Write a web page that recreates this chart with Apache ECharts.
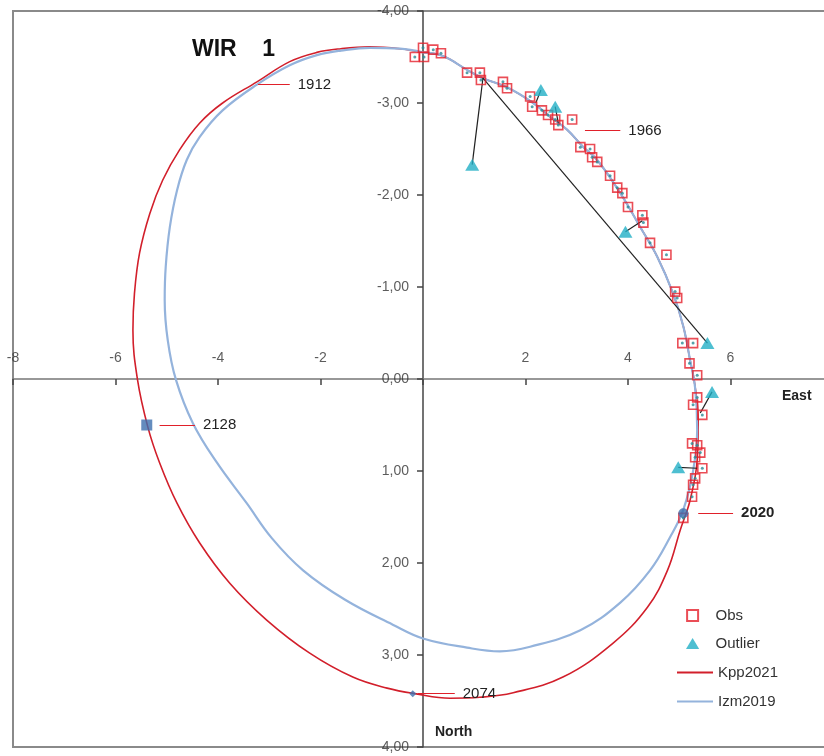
<!DOCTYPE html>
<html>
<head>
<meta charset="utf-8">
<script src="https://cdn.jsdelivr.net/npm/echarts@6/dist/echarts.min.js"></script>
<style>
  html, body { margin: 0; padding: 0; background: #fff; }
  #chart { width: 824px; height: 756px; }
</style>
</head>
<body>
<div id="chart"></div>
<script>
// observed positions (East, North)
const obs = [
  [0.00, -3.60], [0.20, -3.58], [0.35, -3.54], [-0.16, -3.50], [0.02, -3.50],
  [0.86, -3.33], [1.11, -3.33], [1.13, -3.25], [1.56, -3.23], [1.64, -3.16],
  [2.09, -3.07], [2.13, -2.96], [2.32, -2.92], [2.44, -2.87], [2.58, -2.82],
  [2.64, -2.76], [2.91, -2.82], [3.07, -2.52], [3.26, -2.50], [3.30, -2.41],
  [3.40, -2.36], [3.65, -2.21], [3.79, -2.08], [3.89, -2.02], [4.00, -1.87],
  [4.28, -1.78], [4.30, -1.70], [4.43, -1.48], [4.75, -1.35], [4.92, -0.95],
  [4.96, -0.88], [5.06, -0.39], [5.27, -0.39], [5.20, -0.17], [5.35, -0.04],
  [5.35, 0.20], [5.27, 0.28], [5.45, 0.39], [5.25, 0.70], [5.35, 0.72],
  [5.41, 0.80], [5.31, 0.85], [5.45, 0.97], [5.31, 1.08], [5.27, 1.15],
  [5.25, 1.28], [5.08, 1.51]
];
const outliers = [
  [0.96, -2.33], [2.30, -3.14], [2.58, -2.96], [3.95, -1.60],
  [5.55, -0.39], [5.64, 0.14], [4.98, 0.96]
];
// outlier -> predicted position
const residuals = [
  [[0.96, -2.33], [1.17, -3.27]],
  [[5.55, -0.39], [1.17, -3.27]],
  [[2.30, -3.14], [2.20, -3.00]],
  [[2.58, -2.96], [2.64, -2.78]],
  [[3.95, -1.60], [4.28, -1.72]],
  [[5.64, 0.14], [5.41, 0.37]],
  [[4.98, 0.96], [5.35, 0.97]]
];
const kpp2021 = [
  [0.00, -3.55], [-0.45, -3.59], [-1.04, -3.61], [-1.60, -3.59], [-2.07, -3.55],
  [-2.60, -3.45], [-3.24, -3.23], [-3.91, -3.00], [-4.36, -2.78], [-4.75, -2.49],
  [-5.08, -2.16], [-5.33, -1.80], [-5.53, -1.37], [-5.63, -0.93], [-5.66, -0.53],
  [-5.57, 0.01], [-5.37, 0.52], [-5.14, 0.91], [-4.80, 1.35], [-4.36, 1.78],
  [-3.77, 2.22], [-3.05, 2.62], [-2.21, 2.98], [-1.37, 3.24], [-0.70, 3.36],
  [-0.16, 3.42], [0.53, 3.47], [1.11, 3.46], [1.76, 3.41], [2.73, 3.24],
  [3.71, 2.87], [4.38, 2.48], [4.77, 2.08], [5.02, 1.64], [5.21, 1.32],
  [5.35, 0.88], [5.37, 0.45], [5.29, 0.01], [5.21, -0.21], [5.08, -0.57],
  [4.88, -0.93], [4.57, -1.33], [4.24, -1.65], [3.85, -2.02], [3.40, -2.38],
  [3.13, -2.52], [2.81, -2.71], [2.48, -2.85], [2.15, -3.00], [1.64, -3.17],
  [1.17, -3.27], [0.86, -3.36], [0.39, -3.51], [0.00, -3.55]
];
const izm2019 = [
  [0.00, -3.55], [-0.45, -3.59], [-1.04, -3.60], [-1.60, -3.57], [-2.07, -3.52],
  [-2.60, -3.41], [-3.24, -3.20], [-3.91, -2.92], [-4.36, -2.63], [-4.61, -2.38],
  [-4.80, -2.05], [-4.94, -1.65], [-5.02, -1.22], [-5.04, -0.86], [-4.98, -0.42],
  [-4.82, 0.01], [-4.49, 0.48], [-4.02, 0.91], [-3.44, 1.35], [-2.95, 1.73],
  [-2.34, 2.08], [-1.52, 2.40], [-0.59, 2.67], [0.00, 2.82], [0.86, 2.92],
  [1.50, 2.96], [2.09, 2.91], [3.07, 2.73], [3.85, 2.43], [4.43, 2.08],
  [4.82, 1.72], [5.08, 1.42], [5.27, 1.00], [5.35, 0.55], [5.31, 0.10],
  [5.21, -0.21], [5.08, -0.57], [4.88, -0.93], [4.57, -1.33], [4.24, -1.65],
  [3.85, -2.02], [3.40, -2.38], [3.13, -2.52], [2.81, -2.71], [2.48, -2.85],
  [2.15, -3.00], [1.64, -3.17], [1.17, -3.27], [0.86, -3.36], [0.39, -3.51],
  [0.00, -3.55]
];
// epoch marks: label, line start x, line end x, y
const epochNames = ['1912', '1966', '2020', '2074', '2128'];
const epochTicks = [
  [-3.22, -2.60, -3.20],
  [3.16, 3.85, -2.70],
  [5.37, 6.05, 1.46],
  [-0.10, 0.62, 3.42],
  [-5.14, -4.45, 0.50]
];
// predicted positions for 2020, 2074, 2128
const epochPoints = [[5.08, 1.46], [-0.20, 3.42], [-5.39, 0.50]];
const xTicks = [-8, -6, -4, -2, 2, 4, 6, 8];
const yTicks = [-4, -3, -2, -1, 0, 1, 2, 3, 4];

const FONT = 'Liberation Sans, Arial, sans-serif';
const chart = echarts.init(document.getElementById('chart'));

const epochSymbols = ['circle', 'diamond', 'rect'];
const epochSizes = [10, 7, 11];
const lineIcon = 'path://M0,0h36v2h-36z';

const option = {
  animation: false,
  title: {
    text: 'WIR    1',
    left: 187,
    top: 33,
    textStyle: { fontFamily: FONT, fontSize: 23, fontWeight: 'bold', color: '#111' }
  },
  grid: {
    left: 13, top: 11, width: 820, height: 736,
    containLabel: false, outerBoundsMode: 'none',
    show: true, borderColor: '#8a8a8a', borderWidth: 2
  },
  legend: [
    {
      orient: 'vertical', left: 686, top: 608, padding: 0, itemWidth: 36, itemHeight: 11, itemGap: 13,
      textStyle: { fontFamily: FONT, fontSize: 15, color: '#333' },
      data: [
        { name: 'Obs', icon: 'path://M0,0h10v10h-10z' },
        { name: 'Outlier', icon: 'path://M6,0L12,10L0,10z' }
      ]
    },
    {
      orient: 'vertical', left: 677, top: 665, padding: 0, itemWidth: 36, itemHeight: 14, itemGap: 14,
      textStyle: { fontFamily: FONT, fontSize: 15, color: '#333' },
      data: [
        { name: 'Kpp2021', icon: lineIcon },
        { name: 'Izm2019', icon: lineIcon }
      ]
    }
  ],
  xAxis: {
    type: 'value', min: -8, max: 8, interval: 2,
    axisLine: { onZero: true, lineStyle: { color: '#777', width: 1.5 } },
    axisTick: { length: 6, lineStyle: { color: '#444', width: 1.5 } },
    axisLabel: { show: false },
    splitLine: { show: false }
  },
  yAxis: {
    type: 'value', min: -4, max: 4, interval: 1, inverse: true,
    axisLine: { onZero: true, lineStyle: { color: '#444', width: 1.5 } },
    axisTick: { length: 6, lineStyle: { color: '#444', width: 1.5 } },
    axisLabel: { show: false },
    splitLine: { show: false }
  },
  graphic: [
    { type: 'text', left: 782, top: 389, style: { text: 'East', font: 'bold 14px ' + FONT, fill: '#222' } },
    { type: 'text', left: 435, top: 725, style: { text: 'North', font: 'bold 14px ' + FONT, fill: '#222' } }
  ],
  series: [
    {
      name: 'Kpp2021', type: 'line', data: kpp2021, smooth: 0.4, symbol: 'none',
      lineStyle: { color: '#d21f2b', width: 1.6 }, itemStyle: { color: '#d21f2b' }, z: 2
    },
    {
      name: 'Izm2019', type: 'line', data: izm2019, smooth: 0.4, symbol: 'none',
      lineStyle: { color: '#94b3dc', width: 2.2 }, itemStyle: { color: '#94b3dc' }, z: 3
    },
    {
      name: 'Residual', type: 'lines', coordinateSystem: 'cartesian2d',
      data: residuals.map(r => ({ coords: r })),
      lineStyle: { color: '#222', width: 1.2, opacity: 1 }, z: 4
    },
    {
      name: 'Epochs', type: 'lines', coordinateSystem: 'cartesian2d',
      data: epochTicks.map((t, i) => ({
        name: epochNames[i],
        coords: [[t[0], t[2]], [t[1], t[2]]],
        label: { fontWeight: epochNames[i] === '2020' ? 'bold' : 'normal' }
      })),
      lineStyle: { color: '#e0202a', width: 1.2, opacity: 1 },
      label: {
        show: true, position: 'end', distance: 8, formatter: '{b}',
        fontFamily: FONT, fontSize: 15, color: '#222'
      },
      z: 4
    },
    {
      name: 'EpochPts', type: 'scatter',
      data: epochPoints.map((p, i) => ({ value: p, symbol: epochSymbols[i], symbolSize: epochSizes[i] })),
      itemStyle: { color: '#3d6fae' }, z: 6
    },
    {
      name: 'Obs', type: 'scatter', data: obs, symbol: 'rect', symbolSize: 9,
      itemStyle: { color: 'rgba(255,255,255,0)', borderColor: '#e5202c', borderWidth: 1.6 }, z: 5
    },
    {
      name: 'ObsDot', type: 'scatter', data: obs, symbol: 'circle', symbolSize: 3,
      itemStyle: { color: '#2a8a95' }, z: 6
    },
    {
      name: 'Outlier', type: 'scatter', data: outliers, symbol: 'triangle', symbolSize: [14, 12],
      itemStyle: { color: '#22afc6' }, z: 5
    },
    {
      // tick labels of the horizontal axis, placed above the zero line
      name: 'xLabels', type: 'scatter', silent: true, symbolSize: 0, clip: false,
      data: xTicks.map(v => [v, 0]),
      label: {
        show: true, position: 'top', distance: 14, formatter: p => String(p.value[0]),
        fontFamily: FONT, fontSize: 14, color: '#333'
      }
    },
    {
      // tick labels of the vertical axis, left of the zero line
      name: 'yLabels', type: 'scatter', silent: true, symbolSize: 0, clip: false,
      data: yTicks.map(v => [0, v]),
      label: {
        show: true, position: 'left', distance: 14,
        formatter: p => p.value[1].toFixed(2).replace('.', ','),
        fontFamily: FONT, fontSize: 14, color: '#333'
      }
    }
  ]
};
chart.setOption(option);
</script>
</body>
</html>
